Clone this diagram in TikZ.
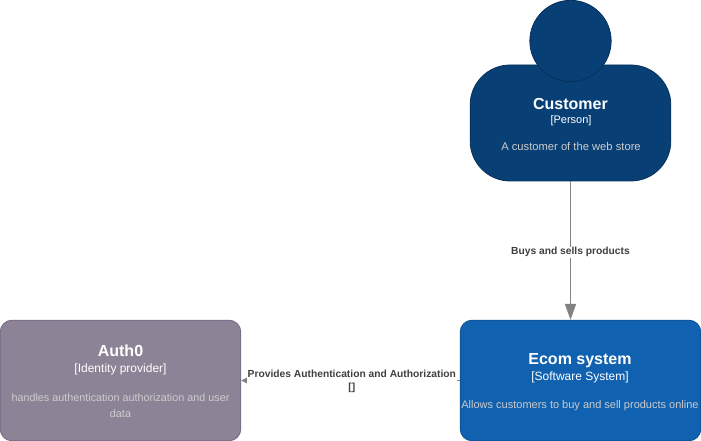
\documentclass[tikz,border=0pt]{standalone}
\usepackage{fontspec}
\setmainfont{Liberation Sans}
\usetikzlibrary{arrows.meta}
\definecolor{personfill}{HTML}{083F75}
\definecolor{personline}{HTML}{06315C}
\definecolor{systemfill}{HTML}{1061B0}
\definecolor{systemline}{HTML}{0D5091}
\definecolor{extfill}{HTML}{8C8496}
\definecolor{extline}{HTML}{736782}
\definecolor{linkgray}{HTML}{828282}
\definecolor{linktext}{HTML}{404040}
\definecolor{desctext}{HTML}{CCCCCC}
\tikzset{
    box/.style={draw, rounded corners=9pt, line width=0.6pt, inner sep=0pt, minimum width=180.5pt, minimum height=90.5pt},
    title/.style={text=white, font=\fontsize{12}{14}\selectfont\bfseries, inner sep=0pt},
    kind/.style={text=white, font=\fontsize{9}{11}\selectfont, inner sep=0pt},
    desc/.style={text=desctext, font=\fontsize{8.25}{12.5}\selectfont, inner sep=0pt, align=center},
    link/.style={draw=linkgray, line width=0.6pt},
    linklabel/.style={fill=white, text=linktext, font=\fontsize{7.7}{9.6}\selectfont\bfseries, inner sep=0.6pt, align=center},
}
\begin{document}
\begin{tikzpicture}[x=0.75pt, y=-0.75pt]
    \useasboundingbox (0, 0) rectangle (701, 441);

    \node[draw=personline, fill=personfill, rounded corners=30pt, line width=0.6pt, minimum width=150.5pt, minimum height=87pt, inner sep=0pt] (customer) at (570.5, 123) {};
    \node[draw=personline, fill=personfill, circle, line width=0.6pt, minimum size=61pt, inner sep=0pt] (customerhead) at (570.5, 41) {};
    \node[title] (customertitle) at (570.5, 103.5) {Customer};
    \node[kind, font=\fontsize{8.25}{10}\selectfont] (customerkind) at (571, 120.5) {[Person]};
    \node[desc, font=\fontsize{8.4}{12.5}\selectfont] (customerdesc) at (571, 146.5) {A customer of the web store};

    \node[box, draw=systemline, fill=systemfill] (ecom) at (580.5, 380.5) {};
    \node[title] (ecomtitle) at (580, 360.5) {Ecom system};
    \node[kind] (ecomkind) at (580, 377) {[Software System]};
    \node[desc] (ecomdesc) at (580, 406) {Allows customers to buy and sell products online};

    \node[box, draw=extline, fill=extfill] (auth) at (120.5, 380.5) {};
    \node[title] (authtitle) at (120.5, 351) {Auth0};
    \node[kind] (authkind) at (120.5, 369.5) {[Identity provider]};
    \node[desc, font=\fontsize{8.1}{12.5}\selectfont] (authdesc) at (120.5, 405.5) {handles authentication authorization and user\\data};

    \draw[link, -{Triangle[length=12pt, width=8.5pt]}] (customer.south) -- (customer.south |- ecom.north)
        node[midway, linklabel, yshift=-1.2pt] (buyslabel) {Buys and sells products};
    \draw[link, -{Triangle[length=5.5pt, width=5.5pt]}] (ecom.west) -- (auth.east)
        node[midway, linklabel, yshift=-0.8pt, xshift=1pt] (provideslabel) {Provides Authentication and Authorization\\{[]}};
\end{tikzpicture}
\end{document}
